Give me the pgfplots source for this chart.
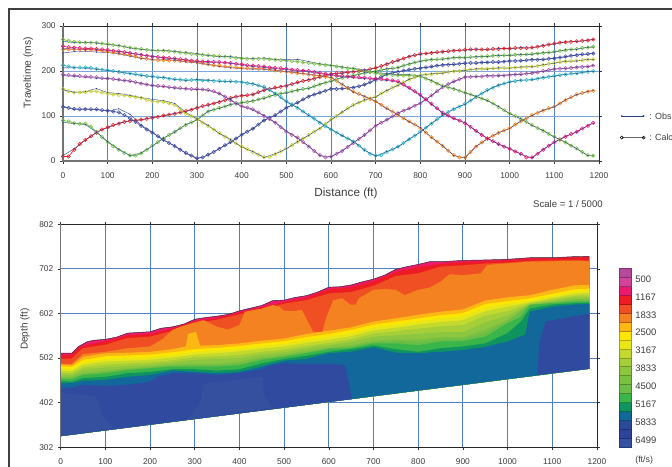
\documentclass[border=0pt]{standalone}
\usepackage{fontspec}
\setmainfont{Liberation Sans}
\usepackage{xcolor}
\usepackage{pgfplots}
\usepackage{pgfplotstable}
\pgfplotsset{compat=1.18}

\definecolor{txt}{HTML}{3C3C3C}
\definecolor{gridb}{HTML}{4F7FC4}
\definecolor{gridp}{HTML}{7FA6D8}
\definecolor{obsc}{HTML}{2E3C8F}
\definecolor{ca}{HTML}{ED2024}
\definecolor{cb}{HTML}{6DBE45}
\definecolor{cc}{HTML}{4352A3}
\definecolor{cd}{HTML}{C4CE2E}
\definecolor{ce}{HTML}{B455A8}
\definecolor{cf}{HTML}{2FB8C6}
\definecolor{cg}{HTML}{F58220}
\definecolor{ch}{HTML}{E6177A}
\definecolor{ci}{HTML}{7AC143}
\definecolor{v01}{HTML}{B5499B}
\definecolor{v02}{HTML}{D2449B}
\definecolor{v03}{HTML}{EC1A6E}
\definecolor{v04}{HTML}{ED1C24}
\definecolor{v05}{HTML}{F04E23}
\definecolor{v06}{HTML}{F58220}
\definecolor{v07}{HTML}{FDB813}
\definecolor{v08}{HTML}{FFE600}
\definecolor{v09}{HTML}{E9E618}
\definecolor{v10}{HTML}{C4D92E}
\definecolor{v11}{HTML}{A6CE39}
\definecolor{v12}{HTML}{8DC63F}
\definecolor{v13}{HTML}{7AC143}
\definecolor{v14}{HTML}{6ABD45}
\definecolor{v15}{HTML}{39B54A}
\definecolor{v16}{HTML}{0F9460}
\definecolor{v17}{HTML}{12689B}
\definecolor{v18}{HTML}{2A4A9A}
\definecolor{v19}{HTML}{2E439A}
\definecolor{v20}{HTML}{3650A2}
\definecolor{dk}{HTML}{2F4A9E}
\definecolor{lt}{HTML}{35509F}

% calculated traveltimes, one column per shot
\pgfplotstableread{
x a b c d e f g h i
0 10 90 120 160 192 213 248 255 270
12.5 10 88 118 155 191 210 248 253 267
25 25 84 116 152 190 208 248 252 265
37.5 38 83 115 152 189 208 248 251 264
50 47 83 115 153 188 208 248 250 263
62.5 55 76 115 155 187 207 247 250 263
75 63 65 115 155 186 205 246 249 263
87.5 70 53 113 152 184 203 245 248 261
100 75 42 112 150 183 202 243 247 260
112.5 80 33 110 148 182 200 241 245 258
125 83 25 108 147 181 198 239 244 256
137.5 87 18 102 146 179 196 237 242 254
150 89 13 95 144 178 195 235 240 252
162.5 90 12 87 142 175 193 232 238 250
175 92 17 78 140 172 191 229 236 249
187.5 94 25 70 136 170 189 227 234 247
200 96 34 63 133 168 188 225 232 246
212.5 98 42 55 132 167 186 224 231 245
225 101 50 47 131 166 185 224 230 245
237.5 103 58 40 128 164 183 223 229 244
250 105 65 33 125 163 182 223 228 243
262.5 108 73 25 115 162 181 222 226 241
275 111 80 18 105 161 180 222 225 240
287.5 114 86 12 99 160 180 221 223 238
300 118 92 6 93 160 180 220 222 237
312.5 122 101 8 85 159 179 217 221 236
325 125 110 14 78 158 179 215 221 235
337.5 128 114 20 70 155 178 213 220 234
350 131 118 27 62 150 178 212 220 233
362.5 135 121 35 54 143 177 210 219 232
375 140 125 42 47 135 177 209 218 231
387.5 143 128 50 39 128 176 208 216 229
400 145 130 58 32 122 175 207 215 228
412.5 146 131 65 26 119 173 206 213 227
425 148 133 72 20 115 171 206 212 227
437.5 153 137 81 14 108 168 205 211 227
450 157 140 90 9 100 165 205 210 227
462.5 160 144 96 9 93 158 203 208 226
475 163 147 102 15 85 150 201 207 225
487.5 165 150 110 21 75 142 200 206 224
500 167 152 118 28 65 133 198 205 223
512.5 171 155 124 35 58 126 197 203 222
525 175 157 130 42 52 118 195 202 221
537.5 178 160 137 50 42 110 194 201 219
550 180 162 143 58 32 102 192 200 218
562.5 183 166 148 65 22 94 190 198 216
575 187 170 152 72 13 85 189 196 215
587.5 190 174 156 82 8 77 187 194 213
600 193 178 160 92 10 70 185 192 212
612.5 195 182 160 100 16 63 178 190 210
625 196 185 161 108 22 57 170 189 208
637.5 197 188 162 117 31 50 162 188 206
650 198 190 163 125 40 43 154 187 205
662.5 199 193 166 130 49 34 149 186 202
675 201 195 170 135 58 25 143 185 200
687.5 204 198 175 139 68 16 138 184 197
700 207 200 180 143 78 12 132 183 195
712.5 211 202 187 150 85 13 125 182 193
725 215 204 193 156 92 20 117 181 192
737.5 220 206 196 163 99 26 110 179 191
750 224 208 198 169 106 32 102 177 190
762.5 228 212 201 175 112 40 95 170 190
775 232 215 203 181 117 48 88 163 190
787.5 235 219 205 186 123 56 81 155 189
800 238 222 206 191 128 65 73 147 188
812.5 239 224 208 192 137 74 63 137 183
825 240 225 210 193 146 83 53 127 178
837.5 242 226 212 195 155 93 43 117 172
850 243 227 213 196 164 102 33 107 167
862.5 244 228 214 198 171 109 23 101 164
875 245 229 215 199 177 115 13 95 160
887.5 246 230 216 200 182 121 8 90 156
900 247 230 217 202 186 127 8 84 152
912.5 248 231 218 203 187 134 20 76 148
925 248 231 218 204 188 142 32 67 143
937.5 248 232 219 205 188 150 41 58 139
950 248 233 219 205 189 158 50 50 135
962.5 249 234 220 206 189 163 56 44 128
975 249 234 220 206 190 168 62 38 120
987.5 250 235 221 207 190 172 68 32 113
1000 250 235 222 207 191 176 73 27 106
1012.5 251 236 222 208 192 178 81 21 100
1025 251 236 223 208 193 179 88 16 93
1037.5 251 237 224 209 194 180 95 8 87
1050 252 238 225 210 195 181 102 8 80
1062.5 254 239 225 211 197 183 107 16 73
1075 256 240 226 213 200 185 112 25 67
1087.5 259 241 227 216 202 187 117 34 60
1100 261 243 228 218 204 189 121 42 54
1112.5 263 245 230 220 205 191 128 48 47
1125 264 246 232 221 206 192 135 54 41
1137.5 265 248 234 222 207 194 142 60 34
1150 266 249 235 223 208 195 148 65 28
1162.5 267 251 237 224 209 197 151 72 20
1175 268 252 238 225 210 198 154 78 13
1187 270 254 239 226 212 200 156 85 12
}\calcdata

% observed picks
\pgfplotstableread{
x a b c d e f g h i
0 12 86 122 158 190 207 240 250 266
25 27 83 114 153 188 207 243 249 263
50 46 81 116 154 186 206 244 248 264
75 64 64 114 161 184 204 242 247 262
100 74 43 111 152 184 201 241 246 259
125 84 26 116 150 180 198 238 243 257
150 90 12 104 146 177 194 233 240 251
175 91 18 80 141 173 190 228 236 248
200 97 33 64 137 167 187 226 233 246
225 100 51 46 134 165 186 226 229 246
250 106 64 34 128 162 181 224 227 244
275 110 81 17 108 160 179 220 224 241
300 119 91 5 94 159 181 218 221 239
325 124 111 13 79 157 180 214 219 234
350 132 117 28 61 149 177 210 218 232
375 139 126 41 48 136 176 207 217 232
400 146 129 59 31 121 176 205 213 229
425 147 134 71 21 113 172 204 210 228
450 158 139 91 8 101 163 204 208 229
475 162 148 101 16 86 151 202 205 226
500 168 151 119 27 67 131 199 203 225
525 174 158 129 43 51 119 196 200 226
550 181 161 144 57 33 101 193 198 221
575 186 171 151 73 12 86 190 194 216
600 194 177 161 91 9 71 186 190 213
625 195 186 160 109 23 56 171 187 209
650 199 189 164 124 41 44 153 185 206
675 202 196 169 136 57 24 144 183 202
700 206 199 181 142 79 11 133 181 197
725 216 205 192 157 91 21 116 179 194
750 223 207 199 168 107 31 103 175 192
775 233 216 202 182 116 49 87 161 192
800 237 221 207 190 129 64 74 145 189
825 241 226 209 194 145 84 52 126 179
850 242 226 214 195 165 101 34 106 166
875 246 230 214 200 176 116 12 94 161
900 246 229 218 201 187 126 7 85 151
925 249 232 217 205 187 143 33 66 144
950 247 232 220 204 190 157 49 51 134
975 250 235 219 207 189 169 63 37 121
1000 249 234 223 206 192 175 72 28 105
1025 252 237 222 209 192 180 89 15 94
1050 251 237 226 209 196 180 101 7 79
1075 257 241 225 214 199 186 113 26 68
1100 260 242 229 217 205 188 120 41 53
1125 265 247 231 222 205 193 136 55 42
1150 265 248 236 222 209 194 147 64 27
1175 269 253 237 226 209 199 155 79 12
1187 270 253 240 225 213 199 157 84 11
}\obsdata

\begin{document}
\begin{tikzpicture}
\useasboundingbox (0,0) rectangle (504pt,350.25pt);
\clip (0,0) rectangle (504pt,350.25pt);

% outer frame of the report page
\draw[black!75,line width=1pt] (6.75pt,-1pt) -- (6.75pt,343.5pt) -- (505pt,343.5pt);

\pgfplotsset{
  common/.style={
    scale only axis,
    clip=false,
    /pgf/number format/assume math mode=true,
    tick align=outside,
    major tick length=2pt,
    tick style={black!80,line width=0.4pt},
    axis line style={black!85,line width=0.5pt},
    grid=major,
    grid style={gridb,line width=0.6pt},
    tick label style={font=\fontsize{6.3}{7}\selectfont,text=txt},
    xticklabel shift=3pt,
    xmin=0,xmax=1200,
    xtick={0,100,...,1200},
    /pgf/number format/1000 sep={},
  },
}

% travel time curves
\begin{axis}[common,
  at={(47.25pt,229.5pt)},anchor=south west,
  width=402pt,height=101.25pt,
  ymin=0,ymax=300,ytick={0,100,200,300},
  y grid style={gridp,line width=0.6pt},
  xlabel={Distance (ft)},ylabel={Traveltime (ms)},
  every axis x label/.style={at={(axis description cs:0.528,-0.244)},anchor=center,font=\fontsize{8.8}{10}\selectfont,text=txt},
  every axis y label/.style={at={(axis description cs:-0.065,0.654)},rotate=90,anchor=center,font=\fontsize{7.7}{9}\selectfont,text=txt},
  calc/.style={line width=0.5pt,mark=o,mark size=1.3pt,mark options={line width=0.4pt,solid}},
  obs/.style={obsc,line width=0.3pt,mark=*,mark size=0.25pt},
]
\addplot[calc,ca] table[x=x,y=a] {\calcdata};
\addplot[calc,cb] table[x=x,y=b] {\calcdata};
\addplot[calc,cc] table[x=x,y=c] {\calcdata};
\addplot[calc,cd] table[x=x,y=d] {\calcdata};
\addplot[calc,ce] table[x=x,y=e] {\calcdata};
\addplot[calc,cf] table[x=x,y=f] {\calcdata};
\addplot[calc,cg] table[x=x,y=g] {\calcdata};
\addplot[calc,ch] table[x=x,y=h] {\calcdata};
\addplot[calc,ci] table[x=x,y=i] {\calcdata};
\addplot[obs] table[x=x,y=a] {\obsdata};
\addplot[obs] table[x=x,y=b] {\obsdata};
\addplot[obs] table[x=x,y=c] {\obsdata};
\addplot[obs] table[x=x,y=d] {\obsdata};
\addplot[obs] table[x=x,y=e] {\obsdata};
\addplot[obs] table[x=x,y=f] {\obsdata};
\addplot[obs] table[x=x,y=g] {\obsdata};
\addplot[obs] table[x=x,y=h] {\obsdata};
\addplot[obs] table[x=x,y=i] {\obsdata};
% legend samples beside the axis
\addplot[obsc,line width=0.45pt,mark=*,mark size=0.4pt] coordinates {(1251,100)(1300,100)};
\addplot[black!60,line width=0.7pt,mark=o,mark size=1.15pt,mark options={black,line width=0.4pt}] coordinates {(1251,52)(1300,52)};
\node[anchor=west,inner sep=0pt,font=\fontsize{6.7}{8}\selectfont,text=txt] at (axis cs:1312,100) {: Obs};
\node[anchor=west,inner sep=0pt,font=\fontsize{6.7}{8}\selectfont,text=txt] at (axis cs:1312,52) {: Calc};
\node[anchor=east,inner sep=0pt,font=\fontsize{7.2}{9}\selectfont,text=txt] at (axis description cs:1.0075,-0.319) {Scale = 1 / 5000};
\draw[black!55,line width=1pt] (rel axis cs:0,1) -- (rel axis cs:0,0) -- (rel axis cs:1,0);
\end{axis}

% velocity section
\begin{axis}[common,
  at={(45.5pt,14.8pt)},anchor=south west,
  width=402.2pt,height=167.25pt,
  ymin=302,ymax=802,ytick={302,402,502,602,702,802},
  ylabel={Depth (ft)},
  every axis y label/.style={at={(axis description cs:-0.0666,0.53)},rotate=90,anchor=center,font=\fontsize{7.5}{9}\selectfont,text=txt},
  band/.style={fill=#1,draw=none},
]
\addplot[band=v03] coordinates {(0,513)(25,513)(40,528)(60,539)(75,542)(100,544)(125,549)(150,558)(200,561)(225,569)(250,572)(275,578)(300,589)(325,593)(350,596)(375,600)(400,608)(425,614)(450,620)(475,631)(500,632)(525,638)(550,642)(575,650)(600,661)(625,662)(650,666)(675,673)(700,679)(725,688)(750,701)(775,707)(800,712)(825,718)(850,718)(900,721)(950,722)(1000,723.5)(1050,727)(1100,727)(1150,729.5)(1183,730)(1183,478)(0,327)};
\addplot[band=v04] coordinates {(0,509)(25,509)(40,524)(50,530)(100,539)(150,553)(200,556)(250,568)(300,585)(350,592)(400,604)(450,616)(500,628)(550,637)(600,656)(650,661)(700,674)(750,695)(800,706)(850,713)(900,717)(950,719)(1000,721)(1050,725)(1100,725.5)(1150,728)(1183,728.5)(1183,478)(0,327)};
\addplot[band=v05] coordinates {(0,501)(25,501)(40,516)(50,524)(100,532)(150,547)(200,550)(250,563)(300,580)(350,588)(400,600)(450,611)(500,624)(550,632)(600,647)(650,650)(700,664)(750,686)(800,692)(850,707)(900,710)(950,714)(1000,716)(1050,720)(1100,721)(1150,722)(1183,720)(1183,478)(0,327)};
\addplot[band=v06] coordinates {(0,489)(25,489)(50,511)(100,516)(150,524)(200,528)(230,546)(250,565)(270,573)(300,582)(320,587)(350,572)(375,566)(400,576)(412,606)(450,613)(475,621)(490,617)(500,608)(525,608)(540,610)(555,580)(565,561)(585,559)(595,595)(610,632)(630,636)(648,622)(660,622)(667,636)(700,655)(725,657)(750,655)(770,643)(800,655)(825,660)(850,673)(870,690)(900,688)(940,692)(955,711)(1000,714.5)(1050,718)(1100,719)(1150,720)(1183,720)(1183,478)(0,327)};
\addplot[band=v07] coordinates {(0,488)(25,486)(50,505)(100,512.7)(150,514)(200,516)(250,522)(280,528)(285,556)(303,561)(312,530)(350,531)(400,535)(450,541)(500,546)(550,556)(600,563.5)(650,571)(700,584)(750,591)(800,599)(850,606)(900,611)(950,631)(1000,638)(1050,643)(1100,655)(1130,661)(1150,665)(1183,666)(1183,478)(0,327)};
\addplot[band=v08] coordinates {(0,484)(25,482)(50,498)(100,506)(150,508)(200,510)(250,515)(300,522)(350,525)(400,529)(450,535)(500,540)(550,549)(600,556)(650,565)(700,577)(750,584)(800,591)(850,598)(900,603)(950,623)(1000,630)(1050,636)(1100,646)(1150,656)(1183,658)(1183,478)(0,327)};
\addplot[band=v09] coordinates {(0,479)(25,477)(50,492)(100,500)(150,502)(200,504)(250,509)(300,516)(350,519)(400,523)(450,529)(500,534)(550,543)(600,550)(650,558)(700,571)(750,577)(800,585)(850,591)(900,596)(950,616)(1000,624)(1050,631)(1100,641)(1150,651)(1183,653)(1183,478)(0,327)};
\addplot[band=v10] coordinates {(0,474)(25,473)(50,487)(100,494)(150,496)(200,498)(250,503)(300,510)(350,513)(400,517)(450,523)(500,528)(550,536)(600,543)(650,551)(700,564)(750,570)(800,577)(850,583)(900,587)(950,607)(1000,617)(1050,627)(1100,637)(1150,646)(1183,648)(1183,478)(0,327)};
\addplot[band=v11] coordinates {(0,469)(25,468)(50,481)(100,487)(150,490)(200,492)(250,497)(300,504)(350,506)(400,509)(450,516)(500,521)(550,529)(600,536)(650,544)(700,557)(750,562)(800,568)(850,573)(900,576)(950,597)(1000,607)(1050,625)(1100,633)(1150,642)(1183,643)(1183,478)(0,327)};
\addplot[band=v12] coordinates {(0,465)(25,464)(50,475)(100,481)(150,484)(200,487)(250,492)(300,498)(350,500)(400,502)(450,510)(500,515)(550,524)(600,531)(650,538)(700,550)(750,553)(800,556)(850,560)(900,560)(950,582)(1000,597)(1050,623)(1100,630)(1150,638)(1183,638)(1183,478)(0,327)};
\addplot[band=v13] coordinates {(0,460)(25,460)(50,469)(100,474)(150,479)(200,483)(250,487)(300,490)(350,490)(400,494)(450,504)(500,510)(550,518)(600,526)(650,531)(700,541)(750,544)(800,544)(850,549)(900,549)(950,566)(1000,588)(1050,622)(1100,627)(1150,634)(1183,634)(1183,478)(0,327)};
\addplot[band=v14] coordinates {(0,458)(25,458)(50,466)(100,471)(150,477)(200,481)(250,485)(300,487)(350,487)(400,490)(450,501)(500,507)(550,515)(600,524)(650,528)(700,538)(750,540)(800,538)(850,544)(900,545)(950,558)(1000,584)(1050,621.5)(1100,626)(1150,631)(1183,631)(1183,478)(0,327)};
\addplot[band=v15] coordinates {(0,455)(25,455)(50,464)(100,468)(150,475)(200,479)(250,483)(300,483)(350,483)(400,486)(450,498)(500,505)(550,513)(600,522)(650,525)(700,535)(750,535)(800,531)(850,539)(900,540)(950,550)(1000,580)(1030,595)(1050,621)(1100,624.8)(1150,629)(1183,629)(1183,478)(0,327)};
\addplot[band=v16] coordinates {(0,450)(25,449)(50,457)(100,460)(150,468)(200,471)(250,477)(300,477)(350,474)(400,477)(450,490)(500,500)(550,507)(600,516)(650,522)(700,530)(750,522)(800,516)(850,524)(900,528)(950,535)(1000,558)(1030,584)(1050,613)(1100,622)(1150,625)(1183,626)(1183,478)(0,327)};
\addplot[band=v17] coordinates {(0,445)(25,446)(50,451)(100,453)(150,460)(200,464)(250,474)(300,471)(350,468)(400,471)(450,483)(500,496)(550,500)(600,513)(650,516)(700,526)(750,514)(800,512.7)(850,516)(900,520)(950,527)(1000,539)(1040,555)(1046,590)(1050,606)(1100,617)(1150,622)(1183,623)(1183,478)(0,327)};
\addplot[band=dk] coordinates {(0,436)(25,436)(50,442)(100,440)(150,442)(200,449)(215,460)(250,468)(300,468)(350,464)(400,468)(450,477)(465,485)(500,490)(550,489)(600,489)(637,486)(652,410)(0,327)};
\addplot[band=dk] coordinates {(1067,464)(1071,535)(1085,584)(1183,602)(1183,478)};
\addplot[band=lt] coordinates {(0,327)(0,425)(40,420)(80,415)(95,369)(121,345)};
\addplot[band=lt] coordinates {(320,445)(452,460)(456,415)(474,392)(281,363)(311,397)};
\addplot[black!85,line width=0.35pt] coordinates {(0,513)(25,513)(40,528)(60,539)(75,542)(100,544)(125,549)(150,558)(200,561)(225,569)(250,572)(275,578)(300,589)(325,593)(350,596)(375,600)(400,608)(425,614)(450,620)(475,631)(500,632)(525,638)(550,642)(575,650)(600,661)(625,662)(650,666)(675,673)(700,679)(725,688)(750,701)(775,707)(800,712)(825,718)(850,718)(900,721)(950,722)(1000,723.5)(1050,727)(1100,727)(1150,729.5)(1183,730)};
\draw[black!55,line width=1pt] (rel axis cs:0,1) -- (rel axis cs:0,0);
\end{axis}

% colour scale
\begin{axis}[
  scale only axis,clip=false,
  at={(464.5pt,14.8pt)},anchor=south west,
  width=8.55pt,height=134.25pt,
  xmin=0,xmax=1,ymin=0,ymax=20,
  xtick=\empty,
  ytick pos=right,
  ytick={0.82,2.8,4.8,6.8,8.8,10.8,12.8,14.8,16.8,18.8},
  yticklabels={6499,5833,5167,4500,3833,3167,2500,1833,1167,500},
  major tick length=0pt,
  tick label style={font=\fontsize{7.1}{8}\selectfont,text=txt},
  axis line style={black!55,line width=0.7pt},
  seg/.style={fill=#1,draw=#1!70!black,line width=0.35pt},
]
\addplot[seg=v20] coordinates {(0,0)(1,0)(1,1)(0,1)} --cycle;
\addplot[seg=v19] coordinates {(0,1)(1,1)(1,2)(0,2)} --cycle;
\addplot[seg=v18] coordinates {(0,2)(1,2)(1,3)(0,3)} --cycle;
\addplot[seg=v17] coordinates {(0,3)(1,3)(1,4)(0,4)} --cycle;
\addplot[seg=v16] coordinates {(0,4)(1,4)(1,5)(0,5)} --cycle;
\addplot[seg=v15] coordinates {(0,5)(1,5)(1,6)(0,6)} --cycle;
\addplot[seg=v14] coordinates {(0,6)(1,6)(1,7)(0,7)} --cycle;
\addplot[seg=v13] coordinates {(0,7)(1,7)(1,8)(0,8)} --cycle;
\addplot[seg=v12] coordinates {(0,8)(1,8)(1,9)(0,9)} --cycle;
\addplot[seg=v11] coordinates {(0,9)(1,9)(1,10)(0,10)} --cycle;
\addplot[seg=v10] coordinates {(0,10)(1,10)(1,11)(0,11)} --cycle;
\addplot[seg=v09] coordinates {(0,11)(1,11)(1,12)(0,12)} --cycle;
\addplot[seg=v08] coordinates {(0,12)(1,12)(1,13)(0,13)} --cycle;
\addplot[seg=v07] coordinates {(0,13)(1,13)(1,14)(0,14)} --cycle;
\addplot[seg=v06] coordinates {(0,14)(1,14)(1,15)(0,15)} --cycle;
\addplot[seg=v05] coordinates {(0,15)(1,15)(1,16)(0,16)} --cycle;
\addplot[seg=v04] coordinates {(0,16)(1,16)(1,17)(0,17)} --cycle;
\addplot[seg=v03] coordinates {(0,17)(1,17)(1,18)(0,18)} --cycle;
\addplot[seg=v02] coordinates {(0,18)(1,18)(1,19)(0,19)} --cycle;
\addplot[seg=v01] coordinates {(0,19)(1,19)(1,20)(0,20)} --cycle;
\node[anchor=west,inner sep=0pt,font=\fontsize{6.6}{8}\selectfont,text=txt] at (axis cs:1.38,-1.45) {(ft/s)};
\end{axis}
\end{tikzpicture}
\end{document}
